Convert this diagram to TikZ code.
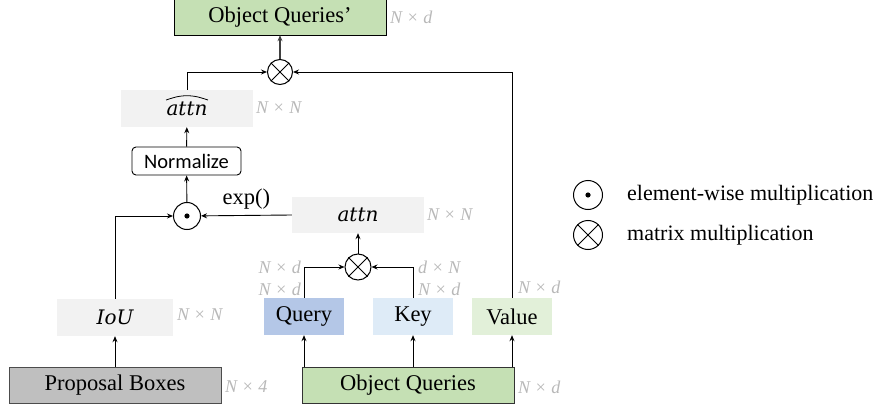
\documentclass[tikz,border=0pt]{standalone}
\usepackage{fontspec}
\setmainfont{Liberation Serif}
\newfontfamily\calib{Carlito}
\newfontfamily\mvarfont{DejaVu Serif}
\usetikzlibrary{arrows.meta}
\definecolor{qgreen}{HTML}{C5E0B4}
\definecolor{vgreen}{HTML}{E2F0D9}
\definecolor{qblue}{HTML}{B4C7E7}
\definecolor{kblue}{HTML}{DEEBF7}
\definecolor{lgray}{HTML}{F2F2F2}
\definecolor{pgray}{HTML}{BFBFBF}
\definecolor{dimgray}{HTML}{B8B8B8}
\tikzset{
  box/.style={rectangle, inner sep=0pt, font=\fontsize{22.5}{24}\selectfont},
  mbox/.style={rectangle, inner sep=0pt, fill=lgray, font=\mvarfont\itshape\fontsize{20}{22}\selectfont},
  dimlab/.style={text=dimgray, font=\fontsize{18}{20}\selectfont\itshape, inner sep=0pt, anchor=west},
  arr/.style={-{Stealth[length=6pt,width=5pt]}, line width=0.9pt},
  opc/.style={circle, draw, line width=1pt, inner sep=0pt},
}
\newcommand{\otimesnode}[4]{% name, x, y, size
  \node[opc, minimum size=#4] (#1) at (#2,#3) {};
  \draw[line width=1pt] (#1.45) -- (#1.225) (#1.135) -- (#1.315);
}
\newcommand{\odotnode}[4]{%
  \node[opc, minimum size=#4] (#1) at (#2,#3) {};
  \fill (#1.center) circle (2.6pt);
}
\begin{document}
\begin{tikzpicture}[x=1pt,y=-1pt]
\useasboundingbox (0,0) rectangle (881,409);
% boxes
\node[box, draw, fill=qgreen, minimum width=212pt, minimum height=36pt] (oqp) at (280,17) {Object Queries'};
\node[dimlab] at (390,17) {N × d};
\node[mbox, minimum width=132pt, minimum height=37pt] (ahat) at (187,108.5) {attn};
\draw[line width=0.8pt, rounded corners=2pt] ([xshift=-21pt,yshift=8.5pt]ahat.center) .. controls ([xshift=-10pt,yshift=12pt]ahat.center) .. ([yshift=13pt]ahat.center) .. controls ([xshift=10pt,yshift=12pt]ahat.center) .. ([xshift=21pt,yshift=8.5pt]ahat.center);
\node[dimlab] at (256,108) {N × N};
\node[box, draw, rounded corners=4pt, minimum width=109pt, minimum height=28pt, font=\calib\fontsize{20.5}{22}\selectfont, line width=0.9pt] (norm) at (186.5,161) {Normalize};
\node[mbox, minimum width=132pt, minimum height=36pt] (attn) at (358,215) {attn};
\node[dimlab] at (427,215) {N × N};
\node[mbox, minimum width=116pt, minimum height=37pt] (iou) at (115,317.5) {IoU};
\node[dimlab] at (177,315) {N × N};
\node[box, draw=black!70, fill=pgray, minimum width=212pt, minimum height=36pt, line width=0.9pt] (prop) at (115,385) {Proposal Boxes};
\node[dimlab] at (225,387) {N × 4};
\node[box, draw=black!80, fill=qgreen, minimum width=212pt, minimum height=36pt, line width=0.9pt] (oq) at (408,385) {Object Queries};
\node[dimlab] at (518,387) {N × d};
\node[box, fill=qblue, minimum width=80pt, minimum height=37pt] (q) at (304,316.5) {Query};
\node[box, fill=kblue, minimum width=80pt, minimum height=37pt] (k) at (413,316.5) {Key};
\node[box, fill=vgreen, minimum width=80pt, minimum height=37pt] (v) at (512,316.5) {Value};
\node[dimlab, anchor=east] at (301,267) {N × d};
\node[dimlab, anchor=east] at (301,289) {N × d};
\node[dimlab] at (418,267) {d × N};
\node[dimlab] at (418,289) {N × d};
\node[dimlab] at (518,287) {N × d};
% operators
\otimesnode{mt}{280}{72}{25pt}
\odotnode{ew}{187}{216}{27pt}
\otimesnode{mq}{358}{267}{26pt}
% connectors
\draw[arr, draw=black!75, line width=1.2pt] (mt) -- (oqp);
\draw[arr] (ahat.north) |- (mt);
\draw[arr] (v.north) |- (mt);
\draw[arr] (norm) -- (ahat);
\draw[arr] (ew) -- (norm);
\draw[arr] (attn.west) -- (ew) node[pos=0.5, above=2pt, font=\fontsize{22.5}{24}\selectfont] (explab) {exp()};
\draw[arr] (iou.north) |- (ew);
\draw[arr] (prop) -- (iou);
\draw[arr] (mq) -- (attn);
\draw[arr] (q.north) |- (mq);
\draw[arr] (k.north) |- (mq);
\draw[arr] (oq.north -| q) -- (q);
\draw[arr] (oq.north -| k) -- (k);
\draw[arr] (oq.north -| v) -- (v);
% legend
\odotnode{lew}{588}{195}{29pt}
\otimesnode{lmt}{588}{235}{29pt}
\node[anchor=west, inner sep=0pt, font=\fontsize{22}{24}\selectfont] (lt1) at (627,195) {element-wise multiplication};
\node[anchor=west, inner sep=0pt, font=\fontsize{22}{24}\selectfont] (lt2) at (627,235) {matrix multiplication};
\end{tikzpicture}
\end{document}
